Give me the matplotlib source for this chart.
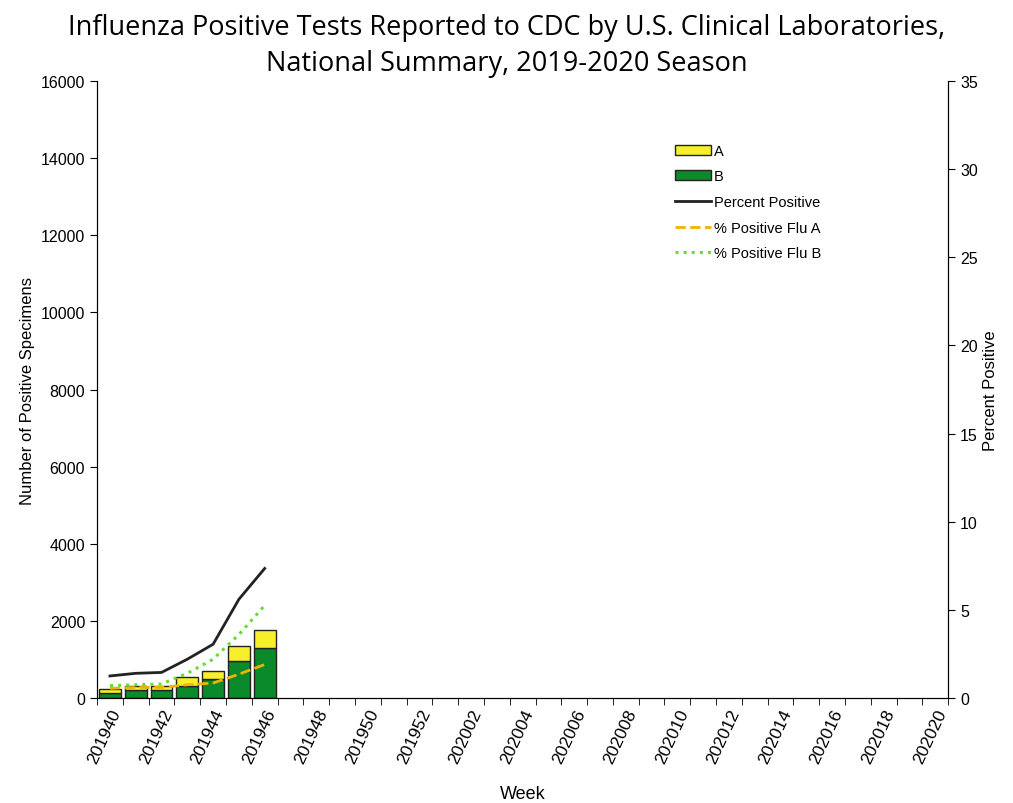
import matplotlib
matplotlib.use('Agg')
import matplotlib.pyplot as plt
import numpy as np

# ------------------------------------------------------------
# Datos
# ------------------------------------------------------------
semanas = [f"2019{w}" for w in range(40, 53)] + [f"2020{w:02d}" for w in range(1, 21)]
pos_b = [130, 200, 200, 310, 490, 960, 1300]
pos_a = [110, 110, 110, 230, 210, 390, 460]
pct_total = [1.25, 1.4, 1.45, 2.2, 3.05, 5.6, 7.35]
pct_flu_a = [0.55, 0.6, 0.6, 0.75, 0.85, 1.35, 1.9]
pct_flu_b = [0.7, 0.75, 0.8, 1.4, 2.2, 3.6, 5.25]

plt.rcParams['font.family'] = ['Liberation Sans', 'DejaVu Sans']

fig = plt.figure(figsize=(10.13, 8.04), dpi=100)
ax = fig.add_axes([0.0958, 0.1306, 0.8402, 0.7674])

n = len(semanas)
x = np.arange(len(pos_b))
ax.bar(x, pos_b, width=0.85, color='#0a8a2a', edgecolor='#222222', linewidth=1, label='B', zorder=2)
ax.bar(x, pos_a, width=0.85, bottom=pos_b, color='#f7ef2a', edgecolor='#222222',
       linewidth=1, label='A', zorder=2)

ax.set_xlim(-0.5, n - 0.5)
ax.set_ylim(0, 16000)
ax.set_yticks(range(0, 16001, 2000))
ax.set_xticks(range(0, n, 2))
ax.set_xticklabels(semanas[::2], rotation=65, ha='right', rotation_mode='anchor')
ax.set_xticks(np.arange(-0.5, n, 1), minor=True)
ax.tick_params(axis='x', which='major', length=0, labelsize=12.5, pad=6)
ax.tick_params(axis='x', which='minor', length=5, direction='out')
ax.tick_params(axis='y', labelsize=11.5, length=5)
ax.spines['top'].set_visible(False)
ax.set_ylabel('Number of Positive Specimens', fontsize=12)
ax.set_xlabel('Week', fontsize=13, labelpad=14)

ax2 = ax.twinx()
ax2.plot(x, pct_total, color='#222222', linewidth=2, label='Percent Positive')
ax2.plot(x, pct_flu_a, color='#f0b400', linewidth=2, linestyle='--', label='% Positive Flu A')
ax2.plot(x, pct_flu_b, color='#66dd33', linewidth=2.2, linestyle=':', label='% Positive Flu B')
ax2.set_ylim(0, 35)
ax2.set_yticks(range(0, 36, 5))
ax2.tick_params(axis='y', labelsize=11.5, length=5)
ax2.spines['top'].set_visible(False)
ax2.set_ylabel('Percent Positive', fontsize=12)

h1, l1 = ax.get_legend_handles_labels()
h2, l2 = ax2.get_legend_handles_labels()
ax2.legend(h1[::-1] + h2, l1[::-1] + l2, loc='upper left', bbox_to_anchor=(0.67, 0.91),
           frameon=False, fontsize=10.5, handlelength=2.5, handletextpad=0.2, labelspacing=0.8,
           borderpad=0)

fig.text(0.5, 0.982, 'Influenza Positive Tests Reported to CDC by U.S. Clinical Laboratories,\n'
         'National Summary, 2019-2020 Season', ha='center', va='top',
         fontsize=19.5, family=['Open Sans', 'DejaVu Sans'], linespacing=1.38)

plt.savefig('out.png', dpi=100)
plt.close(fig)
